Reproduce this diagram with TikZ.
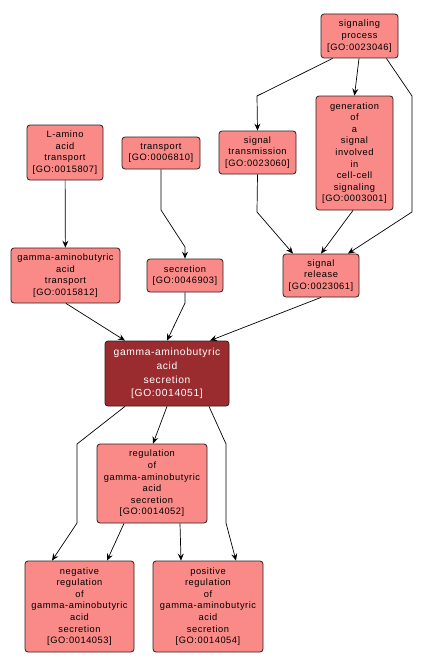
\documentclass[tikz,border=0pt]{standalone}
\usepackage{fontspec}
\setmainfont[LetterSpace=6]{Liberation Sans}
\usetikzlibrary{arrows.meta}
\definecolor{gofill}{HTML}{FA8A87}
\definecolor{godark}{HTML}{9A2C2F}
\begin{document}
\begin{tikzpicture}[x=1pt,y=-1pt,
  gobox/.style={draw=black!80!gofill, fill=gofill, rounded corners=3pt, line width=0.8pt,
    align=center, inner sep=0pt, font=\fontsize{9.3}{11.6}\selectfont},
  darkbox/.style={gobox, fill=godark, text=white, font=\fontsize{10.3}{13.8}\selectfont},
  edge/.style={draw=black, line width=0.7pt, -{Stealth[length=7pt,width=6pt,inset=2.5pt]}}]
\useasboundingbox (0,0) rectangle (423,669);
\newcommand{\gonode}[7]{\node[#1, minimum width=#4pt, minimum height=#5pt] (#6) at (#2,#3) {#7};}
\gonode{gobox}{359.5}{36}{77}{44}{sig}{signaling\\process\\{[GO:0023046]}}
\gonode{gobox}{354.5}{153}{77}{114}{gen}{generation\\of\\a\\signal\\involved\\in\\cell-cell\\signaling\\{[GO:0003001]}}
\gonode{gobox}{257.5}{152.5}{77}{43}{trans}{signal\\transmission\\{[GO:0023060]}}
\gonode{gobox}{65}{152.5}{76}{55}{lamino}{L-amino\\acid\\transport\\{[GO:0015807]}}
\gonode{gobox}{161}{153}{78}{32}{transport}{transport\\{[GO:0006810]}}
\gonode{gobox}{65.5}{275.5}{109}{55}{gabat}{gamma-aminobutyric\\acid\\transport\\{[GO:0015812]}}
\gonode{gobox}{185}{275.5}{76}{33}{secr}{secretion\\{[GO:0046903]}}
\gonode{gobox}{321}{275.5}{76}{43}{rel}{signal\\release\\{[GO:0023061]}}
\gonode{darkbox}{167}{373.5}{124}{65}{main}{gamma-aminobutyric\\acid\\secretion\\{[GO:0014051]}}
\gonode{gobox}{152}{483.5}{110}{79}{reg}{regulation\\of\\gamma-aminobutyric\\acid\\secretion\\{[GO:0014052]}}
\gonode{gobox}{79.5}{606.5}{109}{91}{neg}{negative\\regulation\\of\\gamma-aminobutyric\\acid\\secretion\\{[GO:0014053]}}
\gonode{gobox}{208}{606.5}{110}{91}{pos}{positive\\regulation\\of\\gamma-aminobutyric\\acid\\secretion\\{[GO:0014054]}}
% edges
\draw[edge] (sig.south west) ++(12,0) -- (257,96) -- (trans.north);
\draw[edge] (sig.south) ++(-0.5,0) -- (gen.north);
\draw[edge] (sig.south east) ++(-12,0) -- (412,96) -- (412,212) -- ([xshift=27pt]rel.north);
\draw[edge] (gen.south) ++(-1.5,0) -- (rel.north);
\draw[edge] (trans.south) -- (257,212) -- ([xshift=-28pt]rel.north);
\draw[edge] (lamino) -- (gabat);
\draw[edge] (transport.south) -- (161,210) -- (185,247) -- (secr.north);
\draw[edge] (gabat.south) ++(0.5,0) -- ([xshift=-42pt]main.north);
\draw[edge] (secr.south) -- (185,303) -- (main.north);
\draw[edge] (rel.south) -- ([xshift=43pt]main.north);
\draw[edge] (main.south) ++(-42,0) -- (77,444) -- (77,523) -- ([xshift=-27.5pt]neg.north);
\draw[edge] (main.south) -- ([xshift=1pt]reg.north);
\draw[edge] (main.south) ++(42,0) -- (226,444) -- (226,523) -- ([xshift=28pt]pos.north);
\draw[edge] (reg.south) ++(-28,0) -- ([xshift=27.5pt]neg.north);
\draw[edge] (reg.south) ++(28,0) -- ([xshift=-27pt]pos.north);
\end{tikzpicture}
\end{document}
